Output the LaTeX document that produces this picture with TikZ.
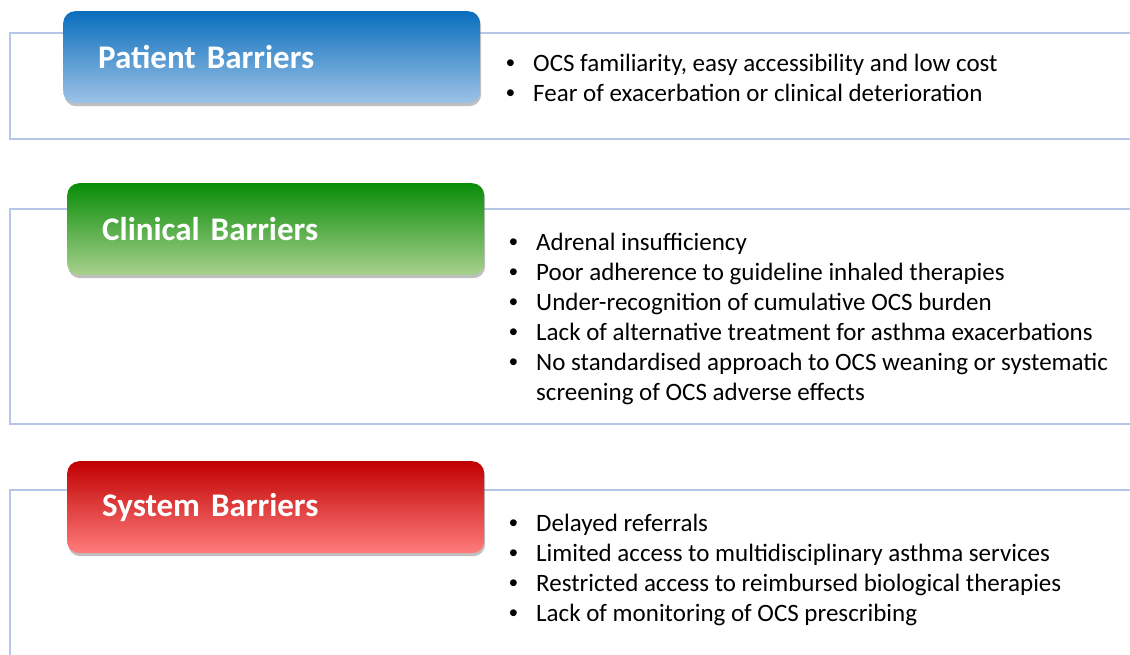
\documentclass[tikz,border=0pt]{standalone}
\usepackage{fontspec}
\setmainfont{Carlito}
\newfontfamily\bulletfont{Liberation Sans}
\usetikzlibrary{shadows}
\definecolor{frameblue}{HTML}{B4C7E7}
\definecolor{patienttop}{HTML}{0A6EBD}
\definecolor{patientbot}{HTML}{9DC3E6}
\definecolor{clinicaltop}{HTML}{078C07}
\definecolor{clinicalbot}{HTML}{A9D18E}
\definecolor{systemtop}{HTML}{C00000}
\definecolor{systembot}{HTML}{FF7C7C}
\newcommand{\bitem}{{\bulletfont\textbullet}}

\begin{document}
\begin{tikzpicture}[x=1pt,y=-1pt,
    frameline/.style={frameblue,line width=1.2pt},
    barrier/.style={anchor=north west,rounded corners=12pt,minimum height=92pt,
      text width=347pt,inner xsep=35pt,inner ysep=0pt,align=left,text=white,
      font=\fontsize{33}{40}\selectfont\bfseries,
      drop shadow={shadow xshift=1pt,shadow yshift=-3pt,opacity=0.5}},
    itemlist/.style={anchor=base west,inner sep=0pt,font=\fontsize{25}{30}\selectfont}]
  \useasboundingbox (0,0) rectangle (1130,654);
  % open frames behind the boxes
  \draw[frameline] (1135,33) -| (10,139) -- (1135,139);
  \draw[frameline] (1135,209) -| (10,424) -- (1135,424);
  \draw[frameline] (1135,490) -| (10,660);
  % title boxes
  \node[barrier,top color=patienttop,bottom color=patientbot] (patient) at (63,11) {Patient Barriers};
  \node[barrier,top color=clinicaltop,bottom color=clinicalbot] (clinical) at (67,183) {Clinical Barriers};
  \node[barrier,top color=systemtop,bottom color=systembot] (system) at (67,461) {System Barriers};
  % bullet lists
  \node[itemlist] (patientitems) at (506,71) {\begin{tabular}[t]{@{}p{27pt}@{}l@{}}
      \bitem & OCS familiarity, easy accessibility and low cost\\
      \bitem & Fear of exacerbation or clinical deterioration
    \end{tabular}};
  \node[itemlist] (clinicalitems) at (509,250) {\begin{tabular}[t]{@{}p{27pt}@{}l@{}}
      \bitem & Adrenal insufficiency\\
      \bitem & Poor adherence to guideline inhaled therapies\\
      \bitem & Under-recognition of cumulative OCS burden\\
      \bitem & Lack of alternative treatment for asthma exacerbations\\
      \bitem & No standardised approach to OCS weaning or systematic\\
             & screening of OCS adverse effects
    \end{tabular}};
  \node[itemlist] (systemitems) at (509,531) {\begin{tabular}[t]{@{}p{27pt}@{}l@{}}
      \bitem & Delayed referrals\\
      \bitem & Limited access to multidisciplinary asthma services\\
      \bitem & Restricted access to reimbursed biological therapies\\
      \bitem & Lack of monitoring of OCS prescribing
    \end{tabular}};
\end{tikzpicture}
\end{document}
